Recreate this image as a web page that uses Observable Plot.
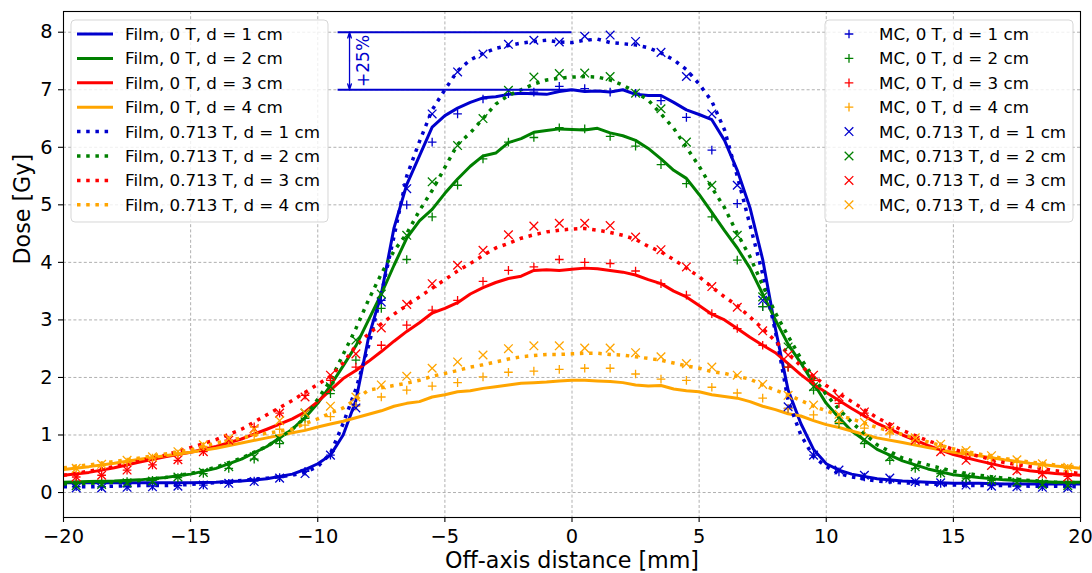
<!DOCTYPE html>
<html>
<head>
<meta charset="utf-8">
<script src="https://cdn.jsdelivr.net/npm/d3@7"></script>
<script src="https://cdn.jsdelivr.net/npm/@observablehq/plot@0.6"></script>
<style>
  html, body { margin: 0; padding: 0; background: #fff; }
  #chart { position: relative; width: 1092px; height: 573px; }
</style>
</head>
<body>
<div id="chart"></div>
<script>
// Off-axis positions (mm) of the film profiles
const filmX = [-20, -19, -18, -17, -16, -15, -14, -13, -12, -11,
  -10.5, -10, -9.5, -9, -8.5, -8, -7.5, -7, -6.5, -6, -5.5, -5, -4.5, -4, -3.5, -3, -2.5, -2, -1.5, -1, -0.5,
  0, 0.5, 1, 1.5, 2, 2.5, 3, 3.5, 4, 4.5, 5, 5.5, 6, 6.5, 7, 7.5, 8, 8.5, 9, 9.5, 10, 10.5,
  11, 12, 13, 14, 15, 16, 17, 18, 19, 20];

// Film dose profiles (Gy), 0 T
const film0_d1 = [0.17, 0.17, 0.17, 0.17, 0.17, 0.17, 0.18, 0.2, 0.24, 0.32,
  0.4, 0.5, 0.65, 1.0, 1.6, 2.7, 3.45, 4.6, 5.35, 5.85, 6.35, 6.55, 6.68, 6.78, 6.86, 6.88, 6.92, 6.94, 6.93, 6.92, 6.97,
  7.0, 6.97, 6.98, 6.96, 7.0, 6.92, 6.9, 6.9, 6.78, 6.65, 6.57, 6.48, 6.12, 5.6, 4.95, 4.05, 2.85, 1.78, 1.2, 0.75, 0.5, 0.39,
  0.32, 0.24, 0.2, 0.18, 0.16, 0.16, 0.15, 0.15, 0.15, 0.15];
const film0_d2 = [0.18, 0.19, 0.2, 0.22, 0.26, 0.32, 0.42, 0.58, 0.8, 1.1,
  1.3, 1.55, 1.86, 2.2, 2.55, 3.0, 3.45, 3.95, 4.42, 4.72, 4.92, 5.2, 5.45, 5.67, 5.85, 5.9, 6.08, 6.15, 6.26, 6.29, 6.32,
  6.31, 6.3, 6.33, 6.25, 6.2, 6.12, 5.98, 5.8, 5.6, 5.46, 5.18, 4.87, 4.55, 4.25, 3.9, 3.45, 3.0, 2.58, 2.25, 1.9, 1.55, 1.3,
  1.07, 0.75, 0.55, 0.41, 0.31, 0.26, 0.22, 0.2, 0.18, 0.18];
const film0_d3 = [0.3, 0.35, 0.43, 0.53, 0.62, 0.7, 0.8, 0.93, 1.1, 1.28,
  1.4, 1.58, 1.78, 1.98, 2.12, 2.28, 2.45, 2.63, 2.8, 2.95, 3.12, 3.2, 3.3, 3.45, 3.56, 3.65, 3.72, 3.76, 3.86, 3.87, 3.86,
  3.88, 3.9, 3.89, 3.86, 3.83, 3.78, 3.7, 3.63, 3.5, 3.4, 3.25, 3.1, 3.0, 2.85, 2.7, 2.56, 2.43, 2.24, 2.05, 1.88, 1.74, 1.6,
  1.46, 1.2, 1.0, 0.82, 0.66, 0.55, 0.45, 0.38, 0.33, 0.3];
const film0_d4 = [0.4, 0.45, 0.51, 0.58, 0.64, 0.7, 0.77, 0.86, 0.95, 1.04,
  1.08, 1.14, 1.19, 1.24, 1.3, 1.36, 1.42, 1.5, 1.55, 1.58, 1.66, 1.7, 1.75, 1.77, 1.81, 1.84, 1.87, 1.9, 1.91, 1.92, 1.94,
  1.95, 1.95, 1.94, 1.93, 1.91, 1.87, 1.85, 1.86, 1.8, 1.77, 1.75, 1.7, 1.67, 1.64, 1.58, 1.5, 1.44, 1.37, 1.33, 1.25, 1.18, 1.13,
  1.07, 0.95, 0.87, 0.78, 0.7, 0.64, 0.57, 0.51, 0.46, 0.42];

// Film dose profiles (Gy), 0.713 T
const film713_d1 = [0.1, 0.1, 0.11, 0.12, 0.12, 0.14, 0.17, 0.21, 0.25, 0.3,
  0.35, 0.45, 0.68, 1.2, 1.8, 2.55, 3.45, 4.45, 5.5, 6.1, 6.65, 7.0, 7.33, 7.52, 7.63, 7.72, 7.77, 7.81, 7.84, 7.86, 7.83,
  7.82, 7.86, 7.88, 7.82, 7.8, 7.78, 7.73, 7.64, 7.52, 7.35, 7.1, 6.8, 6.3, 5.5, 4.65, 3.8, 2.8, 1.6, 1.0, 0.62, 0.45, 0.33,
  0.27, 0.2, 0.17, 0.15, 0.13, 0.12, 0.12, 0.11, 0.11, 0.1];
const film713_d2 = [0.15, 0.16, 0.18, 0.21, 0.26, 0.33, 0.44, 0.6, 0.8, 1.1,
  1.3, 1.62, 1.95, 2.4, 2.85, 3.35, 3.8, 4.2, 4.5, 4.9, 5.25, 5.65, 6.05, 6.25, 6.5, 6.75, 6.9, 7.0, 7.1, 7.17, 7.2,
  7.22, 7.23, 7.22, 7.17, 7.08, 6.96, 6.82, 6.58, 6.33, 6.0, 5.67, 5.3, 4.95, 4.5, 4.1, 3.6, 3.12, 2.72, 2.33, 2.0, 1.7, 1.45,
  1.22, 0.83, 0.6, 0.48, 0.37, 0.3, 0.25, 0.21, 0.18, 0.17];
const film713_d3 = [0.3, 0.37, 0.45, 0.55, 0.65, 0.78, 0.92, 1.1, 1.35, 1.6,
  1.74, 1.88, 2.02, 2.25, 2.55, 2.76, 2.93, 3.1, 3.25, 3.4, 3.55, 3.7, 3.85, 3.98, 4.12, 4.25, 4.33, 4.42, 4.48, 4.53, 4.56,
  4.58, 4.59, 4.56, 4.52, 4.47, 4.4, 4.28, 4.18, 4.05, 3.9, 3.75, 3.57, 3.4, 3.25, 3.05, 2.85, 2.63, 2.42, 2.2, 2.02, 1.86, 1.72,
  1.58, 1.3, 1.08, 0.9, 0.75, 0.63, 0.52, 0.45, 0.38, 0.33];
const film713_d4 = [0.43, 0.48, 0.54, 0.6, 0.67, 0.74, 0.86, 0.95, 1.03, 1.1,
  1.2, 1.28, 1.38, 1.47, 1.62, 1.78, 1.82, 1.86, 1.9, 1.95, 2.02, 2.07, 2.12, 2.18, 2.22, 2.27, 2.32, 2.36, 2.38, 2.4, 2.4,
  2.41, 2.42, 2.42, 2.4, 2.39, 2.36, 2.33, 2.3, 2.25, 2.2, 2.16, 2.1, 2.07, 2.02, 1.97, 1.87, 1.78, 1.7, 1.6, 1.5, 1.42, 1.34,
  1.28, 1.13, 1.01, 0.88, 0.76, 0.67, 0.59, 0.53, 0.48, 0.44];

// Monte Carlo voxel centres (mm)
const mcX = [-19.5, -18.5, -17.5, -16.5, -15.5, -14.5, -13.5, -12.5, -11.5, -10.5,
  -9.5, -8.5, -7.5, -6.5, -5.5, -4.5, -3.5, -2.5, -1.5, -0.5,
  0.5, 1.5, 2.5, 3.5, 4.5, 5.5, 6.5, 7.5, 8.5, 9.5,
  10.5, 11.5, 12.5, 13.5, 14.5, 15.5, 16.5, 17.5, 18.5, 19.5];

// Monte Carlo doses (Gy), 0 T
const mc0_d1 = [0.1, 0.1, 0.1, 0.11, 0.12, 0.13, 0.16, 0.2, 0.26, 0.37,
  0.65, 1.52, 3.34, 5.0, 6.09, 6.58, 6.84, 6.93, 6.96, 7.06,
  7.02, 6.96, 6.94, 6.81, 6.52, 5.95, 5.02, 3.23, 1.46, 0.65,
  0.36, 0.27, 0.22, 0.17, 0.16, 0.15, 0.12, 0.11, 0.1, 0.1];
const mc0_d2 = [0.16, 0.17, 0.19, 0.21, 0.26, 0.33, 0.42, 0.58, 0.85, 1.29,
  1.72, 2.3, 3.2, 4.05, 4.79, 5.34, 5.8, 6.09, 6.17, 6.34,
  6.32, 6.19, 6.02, 5.7, 5.37, 4.79, 4.04, 3.23, 2.18, 1.78,
  1.2, 0.85, 0.56, 0.42, 0.33, 0.25, 0.21, 0.19, 0.17, 0.16];
const mc0_d3 = [0.27, 0.3, 0.39, 0.48, 0.56, 0.71, 0.91, 1.14, 1.38, 1.69,
  1.95, 2.18, 2.56, 2.91, 3.17, 3.34, 3.67, 3.86, 3.92, 4.05,
  4.0, 3.98, 3.85, 3.63, 3.43, 3.11, 2.85, 2.56, 2.18, 1.95,
  1.55, 1.38, 1.12, 0.92, 0.75, 0.6, 0.5, 0.4, 0.33, 0.28];
const mc0_d4 = [0.42, 0.47, 0.53, 0.6, 0.67, 0.8, 0.9, 1.0, 1.1, 1.17,
  1.32, 1.5, 1.66, 1.78, 1.85, 1.91, 2.01, 2.09, 2.11, 2.14,
  2.16, 2.16, 2.06, 1.97, 1.95, 1.83, 1.73, 1.64, 1.46, 1.35,
  1.22, 1.12, 1.02, 0.9, 0.8, 0.7, 0.6, 0.53, 0.47, 0.42];

// Monte Carlo doses (Gy), 0.713 T
const mc713_d1 = [0.08, 0.08, 0.09, 0.1, 0.11, 0.13, 0.16, 0.19, 0.25, 0.33,
  0.65, 1.47, 3.31, 5.28, 6.58, 7.31, 7.62, 7.79, 7.86, 7.83,
  7.93, 7.95, 7.84, 7.65, 7.23, 6.58, 5.34, 3.34, 1.49, 0.65,
  0.39, 0.3, 0.25, 0.19, 0.17, 0.13, 0.11, 0.1, 0.09, 0.08];
const mc713_d2 = [0.12, 0.14, 0.17, 0.2, 0.27, 0.35, 0.45, 0.62, 0.93, 1.38,
  1.84, 2.65, 3.45, 4.47, 5.4, 6.03, 6.5, 6.99, 7.22, 7.28,
  7.29, 7.23, 6.94, 6.67, 6.09, 5.34, 4.47, 3.4, 2.53, 1.84,
  1.3, 0.92, 0.62, 0.45, 0.34, 0.27, 0.22, 0.18, 0.14, 0.12];
const mc713_d3 = [0.27, 0.3, 0.39, 0.48, 0.57, 0.71, 0.91, 1.11, 1.38, 1.66,
  2.04, 2.41, 2.86, 3.27, 3.63, 3.95, 4.21, 4.48, 4.63, 4.68,
  4.68, 4.64, 4.44, 4.22, 3.92, 3.58, 3.22, 2.81, 2.39, 2.04,
  1.66, 1.4, 1.14, 0.91, 0.71, 0.56, 0.47, 0.38, 0.32, 0.27];
const mc713_d4 = [0.42, 0.49, 0.56, 0.62, 0.71, 0.83, 0.94, 1.1, 1.25, 1.38,
  1.5, 1.66, 1.87, 2.02, 2.16, 2.27, 2.39, 2.5, 2.55, 2.55,
  2.51, 2.51, 2.43, 2.36, 2.24, 2.18, 2.04, 1.88, 1.69, 1.52,
  1.36, 1.22, 1.08, 0.95, 0.84, 0.73, 0.64, 0.57, 0.5, 0.44];

// Axis ticks
const xTicks = [-20, -15, -10, -5, 0, 5, 10, 15, 20];
const yTicks = [0, 1, 2, 3, 4, 5, 6, 7, 8];

// Reference band showing the field-size dose increase
const refDose = [7, 8];
const refSpan = [-9.2, 0];
const refLabel = "+25%";

const BLUE = "#0000cd", GREEN = "#008000", RED = "#ff0000", ORANGE = "#ffa500";

const filmSeries = [
  {label: "Film, 0 T, d = 1 cm", values: film0_d1, color: BLUE, dotted: false},
  {label: "Film, 0 T, d = 2 cm", values: film0_d2, color: GREEN, dotted: false},
  {label: "Film, 0 T, d = 3 cm", values: film0_d3, color: RED, dotted: false},
  {label: "Film, 0 T, d = 4 cm", values: film0_d4, color: ORANGE, dotted: false},
  {label: "Film, 0.713 T, d = 1 cm", values: film713_d1, color: BLUE, dotted: true},
  {label: "Film, 0.713 T, d = 2 cm", values: film713_d2, color: GREEN, dotted: true},
  {label: "Film, 0.713 T, d = 3 cm", values: film713_d3, color: RED, dotted: true},
  {label: "Film, 0.713 T, d = 4 cm", values: film713_d4, color: ORANGE, dotted: true}
];
const mcSeries = [
  {label: "MC, 0 T, d = 1 cm", values: mc0_d1, color: BLUE, symbol: "plus"},
  {label: "MC, 0 T, d = 2 cm", values: mc0_d2, color: GREEN, symbol: "plus"},
  {label: "MC, 0 T, d = 3 cm", values: mc0_d3, color: RED, symbol: "plus"},
  {label: "MC, 0 T, d = 4 cm", values: mc0_d4, color: ORANGE, symbol: "plus"},
  {label: "MC, 0.713 T, d = 1 cm", values: mc713_d1, color: BLUE, symbol: "times"},
  {label: "MC, 0.713 T, d = 2 cm", values: mc713_d2, color: GREEN, symbol: "times"},
  {label: "MC, 0.713 T, d = 3 cm", values: mc713_d3, color: RED, symbol: "times"},
  {label: "MC, 0.713 T, d = 4 cm", values: mc713_d4, color: ORANGE, symbol: "times"}
];

const SOLID_W = 3, DOT_W = 3.5, DOT_DASH = "3.5,5.7";
const markerR = {plus: 2.9, times: 4};
const FONT = "DejaVu Sans, sans-serif";
const gridStyle = {stroke: "#b0b0b0", strokeOpacity: 1, strokeWidth: 1, strokeDasharray: "3,2.2"};

const filmRows = s => filmX.map((x, i) => ({x, y: s.values[i]}));
const mcRows = s => mcX.map((x, i) => ({x, y: s.values[i]}));

const chart = Plot.plot({
  width: 1092,
  height: 573,
  marginLeft: 63,
  marginRight: 12,
  marginTop: 11,
  marginBottom: 56,
  style: {fontFamily: FONT, fontSize: "19.4px", color: "black", background: "white", overflow: "visible"},
  x: {domain: [-20, 20], label: null},
  y: {domain: [-0.434, 8.36], label: null},
  marks: [
    Plot.gridX(xTicks, gridStyle),
    Plot.gridY(yTicks, gridStyle),
    ...filmSeries.map(s => Plot.line(filmRows(s), {
      x: "x", y: "y", stroke: s.color,
      strokeWidth: s.dotted ? DOT_W : SOLID_W,
      strokeDasharray: s.dotted ? DOT_DASH : null,
      strokeLinejoin: "round", strokeLinecap: "butt"
    })),
    ...mcSeries.map(s => Plot.dot(mcRows(s), {
      x: "x", y: "y", symbol: s.symbol, r: markerR[s.symbol],
      stroke: s.color, strokeWidth: 1.3, fill: "none"
    })),
    // +25% reference band
    Plot.ruleY(refDose, {y: d => d, x1: refSpan[0], x2: refSpan[1], stroke: BLUE, strokeWidth: 2}),
    Plot.arrow([{from: (refDose[0] + refDose[1]) / 2, to: refDose[1]}, {from: (refDose[0] + refDose[1]) / 2, to: refDose[0]}], {
      x1: () => -8.75, x2: () => -8.75, y1: "from", y2: "to",
      stroke: BLUE, strokeWidth: 1.3, headLength: 7, headAngle: 35
    }),
    Plot.text([refLabel], {
      x: -8.2, y: (refDose[0] + refDose[1]) / 2, rotate: -90,
      fill: BLUE, fontSize: 17
    }),
    Plot.frame({stroke: "black", strokeWidth: 1.1}),
    Plot.axisX(xTicks, {tickSize: 5, tickPadding: 7, strokeWidth: 1.1, tickFormat: d3.format("d"), fontSize: 19.4, label: null}),
    Plot.axisY(yTicks, {tickSize: 5, tickPadding: 6, strokeWidth: 1.1, tickFormat: d3.format("d"), fontSize: 19.4, label: null}),
    Plot.text(["Off-axis distance [mm]"], {frameAnchor: "bottom", dy: 50, fontSize: 22.2}),
    Plot.text(["Dose [Gy]"], {frameAnchor: "left", dx: -41, rotate: -90, fontSize: 22.2})
  ]
});

document.getElementById("chart").appendChild(chart);

// In-axes legends
const svg = d3.select(chart);
const rowY0 = 34, rowStep = 24.4;

function legendBox(x, y, w, h) {
  const g = svg.append("g").attr("text-anchor", "start");
  g.append("rect")
    .attr("x", x).attr("y", y).attr("width", w).attr("height", h)
    .attr("rx", 4).attr("ry", 4)
    .attr("fill", "white").attr("fill-opacity", 0.8)
    .attr("stroke", "#cccccc").attr("stroke-opacity", 0.8).attr("stroke-width", 1);
  return g;
}

const leftLegend = legendBox(71, 20, 257, 202);
filmSeries.forEach((s, i) => {
  const y = rowY0 + i * rowStep;
  leftLegend.append("line")
    .attr("x1", 77).attr("x2", 113).attr("y1", y).attr("y2", y)
    .attr("stroke", s.color)
    .attr("stroke-width", s.dotted ? DOT_W : SOLID_W)
    .attr("stroke-dasharray", s.dotted ? DOT_DASH : null);
  leftLegend.append("text")
    .attr("x", 125).attr("y", y).attr("dy", "0.36em")
    .attr("text-anchor", "start")
    .attr("font-family", FONT).attr("font-size", 16.7)
    .attr("fill", "black").text(s.label);
});

const rightLegend = legendBox(825, 20, 248, 202);
mcSeries.forEach((s, i) => {
  const y = rowY0 + i * rowStep;
  const sym = s.symbol === "plus" ? d3.symbolPlus : d3.symbolTimes;
  const r = markerR[s.symbol];
  rightLegend.append("path")
    .attr("transform", `translate(849,${y})`)
    .attr("d", d3.symbol(sym, r * r * Math.PI)())
    .attr("fill", "none").attr("stroke", s.color).attr("stroke-width", 1.3);
  rightLegend.append("text")
    .attr("x", 879).attr("y", y).attr("dy", "0.36em")
    .attr("text-anchor", "start")
    .attr("font-family", FONT).attr("font-size", 16.7)
    .attr("fill", "black").text(s.label);
});
</script>
</body>
</html>
